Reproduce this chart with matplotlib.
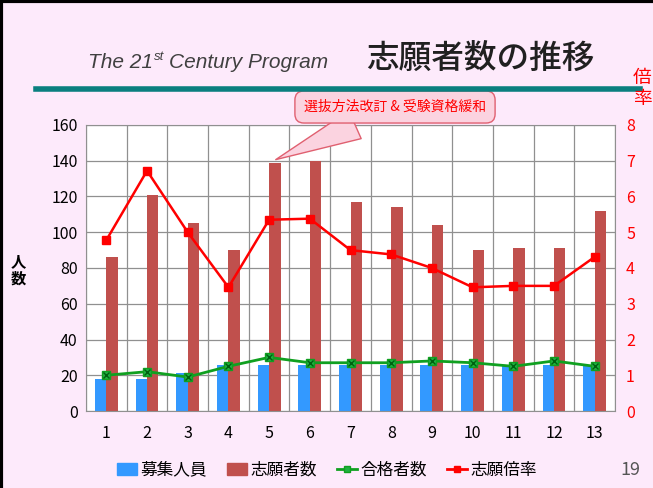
import numpy as np
import matplotlib.pyplot as plt
from matplotlib.lines import Line2D
from matplotlib.patches import Patch

plt.rcParams['font.family'] = ['Noto Sans CJK JP', 'DejaVu Sans']

years = list(range(1, 14))
boshu = [18, 18, 21, 26, 26, 26, 26, 26, 26, 26, 25, 26, 25]          # 募集人員
shigan = [86, 121, 105, 90, 139, 140, 117, 114, 104, 90, 91, 91, 112]  # 志願者数
goukaku = [20, 22, 19, 25, 30, 27, 27, 27, 28, 27, 25, 28, 25]         # 合格者数
bairitsu = [4.78, 6.72, 5.0, 3.46, 5.35, 5.38, 4.5, 4.38, 4.0, 3.46, 3.5, 3.5, 4.31]  # 志願倍率

bg = '#fdeafb'
fig = plt.figure(figsize=(6.53, 4.88), dpi=100, facecolor=bg)
renderer = fig.canvas.get_renderer()

# page frame and header
fig.add_artist(Line2D([0.002, 0.002], [0, 1], color='black', lw=3, transform=fig.transFigure))
fig.add_artist(Line2D([0, 1], [0.997, 0.997], color='black', lw=3, transform=fig.transFigure))
fig.add_artist(Line2D([36/653, 640/653], [1-89/488, 1-89/488], color='#0a7f7f', lw=4, transform=fig.transFigure))

tkw = dict(style='italic', color='#404040', family='Liberation Sans', va='baseline')
t1 = fig.text(88/653, 1-68/488, 'The 21', fontsize=15, **tkw)
x1 = t1.get_window_extent(renderer).x1 / fig.bbox.width
t2 = fig.text(x1 + 1/653, 1-60/488, 'st', fontsize=9.5, **tkw)
x2 = t2.get_window_extent(renderer).x1 / fig.bbox.width
fig.text(x2 + 5/653, 1-68/488, 'Century Program', fontsize=15, **tkw)

fig.text(366/653, 1-58/488, '志願者数の推移', fontsize=23.5, fontweight='medium', color='#202020', va='center')
fig.text(642/653, 1-88/488, '倍\n率', fontsize=13.5, color='red', ha='center', va='center', linespacing=1.0)
fig.text(18/653, 1-270/488, '人\n数', fontsize=11, fontweight='bold', ha='center', va='center', linespacing=1.1)
fig.text(630/653, 1-470/488, '19', fontsize=13, color='#555555', ha='center', va='center')

ax = fig.add_axes([86/653, 77/488, 529/653, 286/488])
ax.set_facecolor('white')
x = np.array(years)
w = 0.28
ax.bar(x - w/2, boshu, w, color='#3399ff', zorder=2, label='募集人員')
ax.bar(x + w/2, shigan, w, color='#c0504d', zorder=2, label='志願者数')
ax.plot(x, goukaku, color='#10a020', lw=2, marker='s', ms=6, mfc='#20b040', mec='#10a020', zorder=4)
ax.plot(x, goukaku, ls='none', marker='x', ms=5, mec='#006010', mew=1, zorder=5)

ax.set_xlim(0.5, 13.5)
ax.set_ylim(0, 160)
ax.set_yticks(range(0, 161, 20))
ax.set_xticks(x)
ax.set_xticks(np.arange(0.5, 13.6, 1), minor=True)
ax.grid(axis='y', color='#909090', lw=0.9, zorder=0)
ax.grid(axis='x', which='minor', color='#909090', lw=0.9, zorder=0)
ax.tick_params(axis='x', which='both', length=0, labelsize=11.5, pad=10)
ax.tick_params(axis='y', length=0, labelsize=11.5, pad=6)
for s in ax.spines.values():
    s.set_color('#909090')

ax2 = ax.twinx()
ax2.plot(x, bairitsu, color='red', lw=1.8, marker='s', ms=6, zorder=5)
ax2.set_ylim(0, 8)
ax2.set_yticks(range(0, 9))
ax2.tick_params(axis='y', length=0, labelsize=11.5, labelcolor='red', pad=8)
for s in ax2.spines.values():
    s.set_visible(False)

ax2.annotate('選抜方法改訂 & 受験資格緩和', xy=(5.1, 140), xycoords=ax.transData,
             xytext=(395/653, 1-107/488), textcoords='figure fraction',
             fontsize=10, color='red', ha='center', va='center', annotation_clip=False,
             bbox=dict(boxstyle='round,pad=0.65', fc='#fbd3e0', ec='#e06070', lw=1),
             arrowprops=dict(arrowstyle='wedge,tail_width=2.2,shrink_factor=0.5',
                             fc='#fbd3e0', ec='#e06070', lw=1))

handles = [Patch(color='#3399ff'), Patch(color='#c0504d'),
           Line2D([], [], color='#10a020', lw=2, marker='s', ms=5, mfc='#20b040'),
           Line2D([], [], color='red', lw=2, marker='s', ms=5)]
labels = ['募集人員', '志願者数', '合格者数', '志願倍率']
fig.legend(handles, labels, loc='center', bbox_to_anchor=(327/653, 1-470/488), ncol=4,
           frameon=False, fontsize=12, handlelength=1.2, handletextpad=0.2, columnspacing=1.2)

fig.savefig('out.png', dpi=100, facecolor=bg)
